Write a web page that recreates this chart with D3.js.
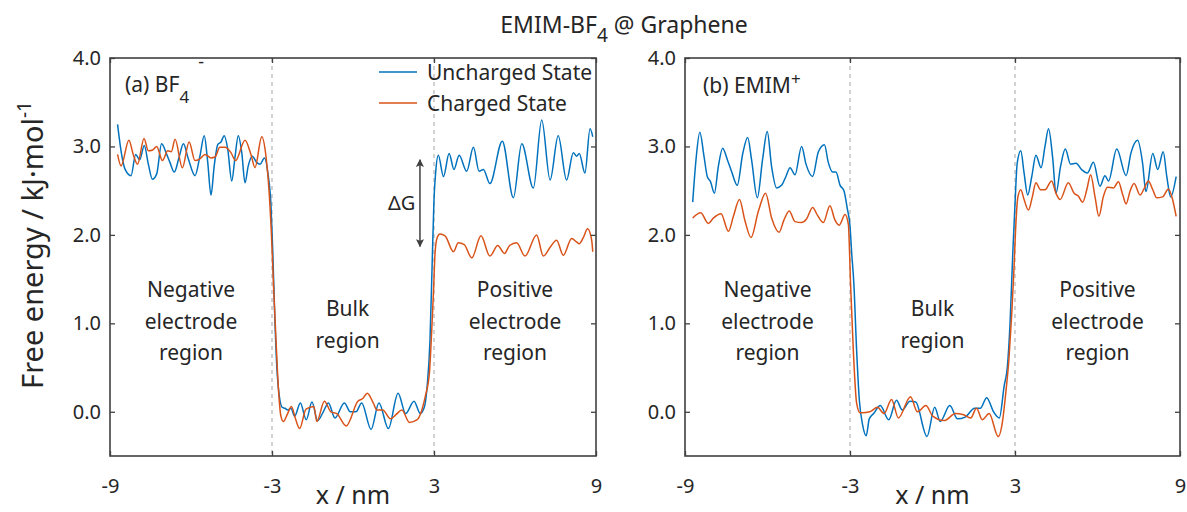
<!DOCTYPE html>
<html>
<head>
<meta charset="utf-8">
<script src="https://cdn.jsdelivr.net/npm/d3@7"></script>
<style>
  body { margin: 0; background: #fff; }
  text { font-family: "Noto Sans", "Open Sans", sans-serif; fill: #262626; }
</style>
</head>
<body>
<svg id="chart" width="1187" height="512"></svg>
<script>
// values (x in nm, free energy in kJ/mol)
var xTicks = [-9, -3, 3, 9];
var yTicks = [0, 1, 2, 3, 4];
var boundaries = [-3, 3];
var seriesNames = ["Uncharged State", "Charged State"];

var bf4Uncharged = [[-8.72,3.25],[-8.57,2.91],[-8.44,2.74],[-8.22,2.67],[-8.05,2.91],[-7.90,2.85],[-7.73,3.01],[-7.58,2.80],[-7.43,2.63],[-7.27,2.69],[-7.09,3.03],[-6.90,2.91],[-6.78,2.82],[-6.62,2.71],[-6.44,2.88],[-6.28,3.03],[-6.10,2.86],[-5.85,2.67],[-5.67,2.89],[-5.51,3.12],[-5.38,2.82],[-5.26,2.45],[-5.14,2.78],[-5.01,3.02],[-4.89,3.05],[-4.77,3.12],[-4.64,2.97],[-4.49,2.61],[-4.37,2.88],[-4.25,3.12],[-4.12,2.93],[-4.00,2.59],[-3.88,2.78],[-3.73,2.89],[-3.57,2.82],[-3.44,2.80],[-3.28,2.87],[-3.14,2.67],[-3.04,2.35],[-2.97,1.80],[-2.90,1.10],[-2.82,0.50],[-2.73,0.18],[-2.62,0.05],[-2.52,0.04],[-2.41,0.02],[-2.30,0.04],[-2.16,-0.05],[-1.95,0.10],[-1.73,-0.09],[-1.52,0.11],[-1.31,-0.10],[-1.10,0.00],[-0.91,0.10],[-0.67,-0.07],[-0.32,0.10],[-0.10,0.00],[0.11,0.00],[0.32,0.10],[0.67,-0.20],[0.96,0.10],[1.31,-0.19],[1.67,0.21],[1.95,-0.02],[2.26,0.12],[2.49,-0.02],[2.64,0.05],[2.75,0.30],[2.85,0.80],[2.93,1.65],[3.00,2.40],[3.06,2.70],[3.16,2.90],[3.35,2.66],[3.56,2.92],[3.74,2.74],[3.93,2.90],[4.21,2.72],[4.46,2.99],[4.67,2.72],[4.83,2.74],[5.07,2.58],[5.53,3.06],[5.94,2.42],[6.25,3.03],[6.68,2.53],[6.99,3.30],[7.30,2.62],[7.60,3.12],[7.91,2.62],[8.16,2.93],[8.28,2.89],[8.38,2.92],[8.59,2.70],[8.78,3.20],[8.88,3.11]];

var bf4Charged = [[-8.72,2.91],[-8.59,2.78],[-8.30,3.07],[-8.14,2.91],[-7.98,2.80],[-7.74,3.09],[-7.58,2.95],[-7.42,2.96],[-7.27,3.00],[-7.06,2.84],[-6.86,2.95],[-6.73,2.94],[-6.59,3.08],[-6.32,2.76],[-6.07,3.05],[-5.85,2.84],[-5.67,2.86],[-5.48,2.91],[-5.26,2.87],[-5.11,2.88],[-4.93,2.99],[-4.74,2.99],[-4.52,2.93],[-4.35,2.84],[-4.00,3.07],[-3.78,2.91],[-3.63,2.76],[-3.38,3.11],[-3.22,2.88],[-3.11,2.50],[-3.02,2.00],[-2.94,1.40],[-2.85,0.80],[-2.76,0.25],[-2.67,-0.05],[-2.58,-0.11],[-2.42,-0.02],[-2.28,0.06],[-2.13,-0.08],[-1.98,-0.19],[-1.74,0.03],[-1.45,0.06],[-1.34,-0.11],[-1.06,0.12],[-0.82,0.00],[-0.60,-0.02],[-0.25,-0.16],[0.18,0.12],[0.36,0.15],[0.53,0.21],[0.75,0.10],[0.89,0.02],[1.10,0.02],[1.39,-0.08],[1.60,-0.03],[1.81,0.02],[2.09,-0.12],[2.38,-0.09],[2.55,0.02],[2.69,0.19],[2.83,0.44],[2.92,0.95],[2.98,1.35],[3.04,1.80],[3.12,1.97],[3.22,2.01],[3.41,1.99],[3.72,1.81],[3.90,1.91],[4.12,1.89],[4.40,1.74],[4.74,1.99],[5.07,1.76],[5.36,1.88],[5.61,1.79],[5.80,1.88],[6.06,1.91],[6.37,1.76],[6.80,2.00],[7.05,1.76],[7.30,1.86],[7.54,1.94],[7.79,1.77],[8.10,1.96],[8.28,1.92],[8.38,1.90],[8.53,1.97],[8.69,2.07],[8.84,1.94],[8.88,1.81]];

var emimUncharged = [[-8.72,2.37],[-8.60,2.85],[-8.46,3.16],[-8.31,2.89],[-8.19,2.66],[-8.07,2.60],[-7.93,2.47],[-7.79,2.77],[-7.63,2.98],[-7.46,2.85],[-7.30,2.71],[-7.10,2.56],[-6.90,2.92],[-6.72,3.10],[-6.58,2.85],[-6.37,2.42],[-6.18,2.85],[-6.01,3.17],[-5.85,2.77],[-5.67,2.53],[-5.49,2.56],[-5.33,2.66],[-5.18,2.76],[-5.00,2.68],[-4.76,3.00],[-4.60,2.80],[-4.36,2.66],[-4.15,2.94],[-3.93,3.02],[-3.79,2.82],[-3.63,2.71],[-3.51,2.71],[-3.36,2.56],[-3.22,2.50],[-3.10,2.30],[-3.00,2.10],[-2.94,1.80],[-2.86,1.45],[-2.76,0.70],[-2.66,0.13],[-2.54,-0.15],[-2.41,-0.27],[-2.30,-0.08],[-2.14,-0.02],[-1.90,0.07],[-1.59,-0.09],[-1.31,0.13],[-1.10,0.02],[-0.82,0.12],[-0.61,0.11],[-0.20,-0.28],[0.08,0.05],[0.28,-0.11],[0.63,0.07],[0.91,-0.08],[1.19,-0.06],[1.53,0.04],[1.74,0.04],[1.97,0.16],[2.22,0.00],[2.43,-0.07],[2.61,0.30],[2.72,0.50],[2.82,1.00],[2.92,1.80],[3.00,2.35],[3.08,2.81],[3.21,2.95],[3.33,2.70],[3.46,2.45],[3.61,2.66],[3.76,2.90],[3.95,2.76],[4.09,3.00],[4.22,3.20],[4.37,2.87],[4.49,2.47],[4.66,2.78],[4.83,2.97],[5.02,2.80],[5.22,2.81],[5.42,2.74],[5.63,2.70],[5.85,2.82],[6.09,2.55],[6.27,2.67],[6.40,2.61],[6.70,2.97],[7.04,2.67],[7.22,2.93],[7.46,3.07],[7.64,2.81],[7.76,2.49],[8.01,2.92],[8.19,2.74],[8.39,2.94],[8.52,2.66],[8.66,2.43],[8.86,2.66]];

var emimCharged = [[-8.72,2.19],[-8.43,2.25],[-8.15,2.13],[-7.97,2.19],[-7.69,2.24],[-7.42,2.04],[-7.24,2.21],[-7.02,2.40],[-6.82,2.16],[-6.60,1.97],[-6.33,2.27],[-6.07,2.47],[-5.85,2.19],[-5.58,2.03],[-5.40,2.17],[-5.21,2.27],[-5.00,2.15],[-4.76,2.14],[-4.58,2.18],[-4.36,2.31],[-4.18,2.22],[-3.97,2.14],[-3.73,2.33],[-3.55,2.17],[-3.39,2.11],[-3.18,2.23],[-3.06,2.12],[-2.98,1.45],[-2.88,0.70],[-2.76,0.10],[-2.64,-0.01],[-2.55,-0.01],[-2.28,0.00],[-2.00,0.05],[-1.76,-0.02],[-1.49,0.14],[-1.24,-0.07],[-0.80,0.17],[-0.55,0.00],[-0.24,0.07],[0.01,-0.05],[0.42,-0.10],[0.84,-0.02],[1.10,-0.03],[1.39,-0.07],[1.60,0.04],[1.81,-0.09],[2.06,-0.02],[2.39,-0.28],[2.55,-0.10],[2.66,0.20],[2.78,0.60],[2.88,1.10],[2.96,1.60],[3.02,2.05],[3.10,2.42],[3.21,2.51],[3.33,2.40],[3.49,2.28],[3.63,2.43],[3.76,2.59],[3.93,2.51],[4.09,2.51],[4.33,2.61],[4.49,2.47],[4.64,2.40],[4.94,2.59],[5.15,2.47],[5.30,2.44],[5.46,2.37],[5.61,2.51],[5.75,2.68],[5.91,2.43],[6.05,2.21],[6.21,2.43],[6.36,2.54],[6.58,2.53],[6.76,2.60],[6.92,2.45],[7.04,2.35],[7.18,2.49],[7.33,2.58],[7.55,2.45],[7.69,2.52],[7.85,2.61],[8.01,2.51],[8.15,2.42],[8.37,2.43],[8.58,2.52],[8.73,2.40],[8.86,2.21]];

var colors = ["#0072BD", "#D95319"];
var axisColor = "#404040";
var plotTop = 58, plotBottom = 456;

var svg = d3.select("#chart");

var defs = svg.append("defs");
defs.append("marker")
    .attr("id", "head")
    .attr("viewBox", "0 0 10 10")
    .attr("refX", 9).attr("refY", 5)
    .attr("markerWidth", 11).attr("markerHeight", 8)
    .attr("markerUnits", "userSpaceOnUse")
    .attr("orient", "auto-start-reverse")
  .append("path")
    .attr("d", "M0,0L10,5L0,10L2,5Z")
    .attr("fill", axisColor);

var panels = [
  { id: "a", x0: 110, x1: 596, series: [bf4Uncharged, bf4Charged] },
  { id: "b", x0: 685, x1: 1180, series: [emimUncharged, emimCharged] }
];

var y = d3.scaleLinear().domain([-0.5, 4]).range([plotBottom, plotTop]);

panels.forEach(function(p) {
  var x = d3.scaleLinear().domain([-9, 9]).range([p.x0, p.x1]);
  var g = svg.append("g");

  defs.append("clipPath").attr("id", "clip-" + p.id)
    .append("rect")
    .attr("x", p.x0).attr("y", plotTop)
    .attr("width", p.x1 - p.x0).attr("height", plotBottom - plotTop);

  // region boundaries
  g.selectAll(".bound").data(boundaries).enter().append("line")
    .attr("x1", function(d) { return x(d); })
    .attr("x2", function(d) { return x(d); })
    .attr("y1", plotTop).attr("y2", plotBottom)
    .attr("stroke", "#b4b4b4")
    .attr("stroke-width", 1.2)
    .attr("stroke-dasharray", "4,4");

  var line = d3.line()
      .x(function(d) { return x(d[0]); })
      .y(function(d) { return y(d[1]); })
      .curve(d3.curveMonotoneX);

  g.append("g").attr("clip-path", "url(#clip-" + p.id + ")")
    .selectAll("path").data(p.series).enter().append("path")
    .attr("d", line)
    .attr("fill", "none")
    .attr("stroke", function(d, i) { return colors[i]; })
    .attr("stroke-width", 1.5);

  // axes, ticks pointing inward
  var left = g.append("g").attr("transform", "translate(" + p.x0 + ",0)")
    .call(d3.axisLeft(y).tickValues(yTicks).tickSize(-5).tickPadding(9).tickFormat(d3.format(".1f")));
  var right = g.append("g").attr("transform", "translate(" + p.x1 + ",0)")
    .call(d3.axisRight(y).tickValues(yTicks).tickSize(-5).tickFormat(""));
  var bot = g.append("g").attr("transform", "translate(0," + plotBottom + ")")
    .call(d3.axisBottom(x).tickValues(xTicks).tickSize(-5).tickPadding(23).tickFormat(function(d) { return String(d); }));
  var topAx = g.append("g").attr("transform", "translate(0," + plotTop + ")")
    .call(d3.axisTop(x).tickValues(xTicks).tickSize(-5).tickFormat(""));

  [left, right, bot, topAx].forEach(function(a) {
    a.select(".domain").remove();
    a.selectAll("line").attr("stroke", axisColor).attr("stroke-width", 1.3);
    a.selectAll("text").attr("font-size", 20).attr("fill", "#262626")
      .style("font-family", "\"Noto Sans\", \"Open Sans\", sans-serif");
  });

  g.append("rect")
    .attr("x", p.x0).attr("y", plotTop)
    .attr("width", p.x1 - p.x0).attr("height", plotBottom - plotTop)
    .attr("fill", "none").attr("stroke", axisColor).attr("stroke-width", 1.6);

  g.append("text")
    .attr("x", (p.x0 + p.x1) / 2).attr("y", 504)
    .attr("text-anchor", "middle").attr("font-size", 25)
    .text("x / nm");

  // region annotations
  var regions = [
    { cx: -6, lines: ["Negative", "electrode", "region"], y0: 297 },
    { cx: p.id == "a" ? -0.2 : 0, lines: ["Bulk", "region"], y0: 316 },
    { cx: 6, lines: ["Positive", "electrode", "region"], y0: 297 }
  ];
  regions.forEach(function(r) {
    var t = g.append("text").attr("text-anchor", "middle").attr("font-size", 21);
    r.lines.forEach(function(s, i) {
      t.append("tspan").attr("x", x(r.cx)).attr("y", r.y0 + i * 31.5).text(s);
    });
  });

  p.x = x;
});

// panel labels
var pa = panels[0], pb = panels[1];
var la = svg.append("text").attr("x", 125).attr("y", 92).attr("font-size", 21);
la.append("tspan").text("(a) BF");
la.append("tspan").attr("font-size", 17).attr("dy", 11).text("4");
la.append("tspan").attr("font-size", 18).attr("dx", 9).attr("dy", -35).text("-");

var lb = svg.append("text").attr("x", 703).attr("y", 93).attr("font-size", 21);
lb.append("tspan").text("(b) EMIM");
lb.append("tspan").attr("font-size", 17).attr("dy", -8).text("+");

// legend (panel a)
var legend = svg.append("g");
seriesNames.forEach(function(name, i) {
  var ly = 72 + i * 31;
  legend.append("line")
    .attr("x1", 379).attr("x2", 417).attr("y1", ly).attr("y2", ly)
    .attr("stroke", colors[i]).attr("stroke-width", 1.5);
  legend.append("text").attr("x", 427).attr("y", ly + 8).attr("font-size", 21).text(name);
});

// delta G arrow
svg.append("line")
  .attr("x1", pa.x(2.48)).attr("x2", pa.x(2.48))
  .attr("y1", y(2.85)).attr("y2", y(1.87))
  .attr("stroke", axisColor).attr("stroke-width", 1.5)
  .attr("marker-start", "url(#head)").attr("marker-end", "url(#head)");
svg.append("text").attr("x", pa.x(1.8)).attr("y", 210)
  .attr("text-anchor", "middle").attr("font-size", 20).text("ΔG");

// y label
svg.append("text")
  .attr("transform", "translate(43,245) rotate(-90)")
  .attr("text-anchor", "middle").attr("font-size", 29)
  .text("Free energy / kJ·mol")
  .append("tspan").attr("font-size", 19).attr("dy", -12).text("-1");

// title
var title = svg.append("text").attr("x", 624).attr("y", 33)
  .attr("text-anchor", "middle").attr("font-size", 23);
title.append("tspan").text("EMIM-BF");
title.append("tspan").attr("font-size", 19).attr("dy", 9).text("4");
title.append("tspan").attr("dy", -9).text(" @ Graphene");
</script>
</body>
</html>
